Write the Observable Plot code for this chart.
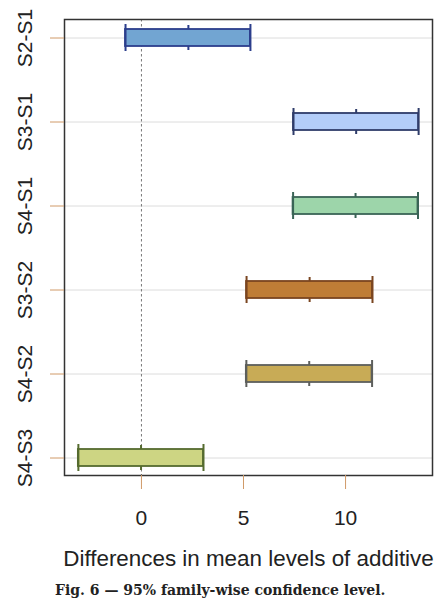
<!DOCTYPE html>
<html>
<head>
<meta charset="utf-8">
<script src="https://cdn.jsdelivr.net/npm/d3@7"></script>
<script src="https://cdn.jsdelivr.net/npm/@observablehq/plot@0.6"></script>
<style>
  html, body { margin: 0; padding: 0; background: #fff; }
  #chart svg { display: block; }
  .caption { font-family: "DejaVu Serif", serif; font-weight: bold; font-size: 14px; line-height: 20px; padding: 2px 0 0 55px; color: #222; margin: 0; }
</style>
</head>
<body>
<div id="chart"></div>
<p class="caption">Fig. 6 — 95% family-wise confidence level.</p>
<script>
const comparisons = ["S2-S1", "S3-S1", "S4-S1", "S3-S2", "S4-S2", "S4-S3"];
const diff = [2.30, 10.52, 10.49, 8.24, 8.22, -0.02];
const lwr = [-0.78, 7.45, 7.43, 5.15, 5.14, -3.09];
const upr = [5.34, 13.58, 13.55, 11.32, 11.30, 3.04];
const fills = ["#72a5d2", "#b3cdf9", "#9dd5aa", "#bf7d36", "#c8ab56", "#cdd583"];
const strokes = ["#2c3e8c", "#2f3c6a", "#3a6456", "#7a4520", "#5d5f5c", "#556b2f"];
const xTicks = [0, 5, 10];
const xLabel = "Differences in mean levels of additive";

const data = comparisons.map((c, i) => ({c, diff: diff[i], lwr: lwr[i], upr: upr[i], fill: fills[i], stroke: strokes[i]}));
const tickColor = "#d09a68";

const chart = Plot.plot({
  width: 437,
  height: 578,
  marginLeft: 64,
  marginRight: 5,
  marginTop: 19,
  marginBottom: 103,
  style: {fontFamily: "'Liberation Sans', Arial, sans-serif", color: "#222", background: "#fff"},
  x: {domain: [-3.77, 14.26]},
  y: {type: "band", domain: comparisons, paddingInner: 0.798, paddingOuter: 0.107},
  marks: [
    Plot.gridY({stroke: "#dcdcdc", strokeOpacity: 1}),
    Plot.ruleX([0], {stroke: "#777", strokeDasharray: "2.5,2.5"}),
    Plot.tickX(data, {y: "c", x: "diff", stroke: "stroke", strokeWidth: 2, insetTop: -4, insetBottom: -4}),
    Plot.barX(data, {y: "c", x1: "lwr", x2: "upr", fill: "fill", stroke: "stroke", strokeWidth: 1.8}),
    Plot.tickX(data, {y: "c", x: "lwr", stroke: "stroke", strokeWidth: 2, insetTop: -5, insetBottom: -5}),
    Plot.tickX(data, {y: "c", x: "upr", stroke: "stroke", strokeWidth: 2, insetTop: -5, insetBottom: -5}),
    Plot.frame({stroke: "#333", strokeWidth: 1.5}),
    Plot.axisX({ticks: xTicks, tickSize: 14, tickPadding: 21, fontSize: 21, stroke: tickColor, fill: "#222", label: null}),
    Plot.axisY({tickSize: 14, tickFormat: () => "", stroke: tickColor, label: null}),
    Plot.text(comparisons, {y: d => d, text: d => d, frameAnchor: "left", dx: -39.5, rotate: -90, textAnchor: "middle", lineAnchor: "middle", fontSize: 21, fill: "#222"}),
    Plot.text([xLabel], {text: d => d, frameAnchor: "bottom", dy: 83, lineAnchor: "middle", textAnchor: "middle", fontSize: 22.4, fill: "#222"})
  ]
});
document.getElementById("chart").appendChild(chart);
</script>
</body>
</html>
